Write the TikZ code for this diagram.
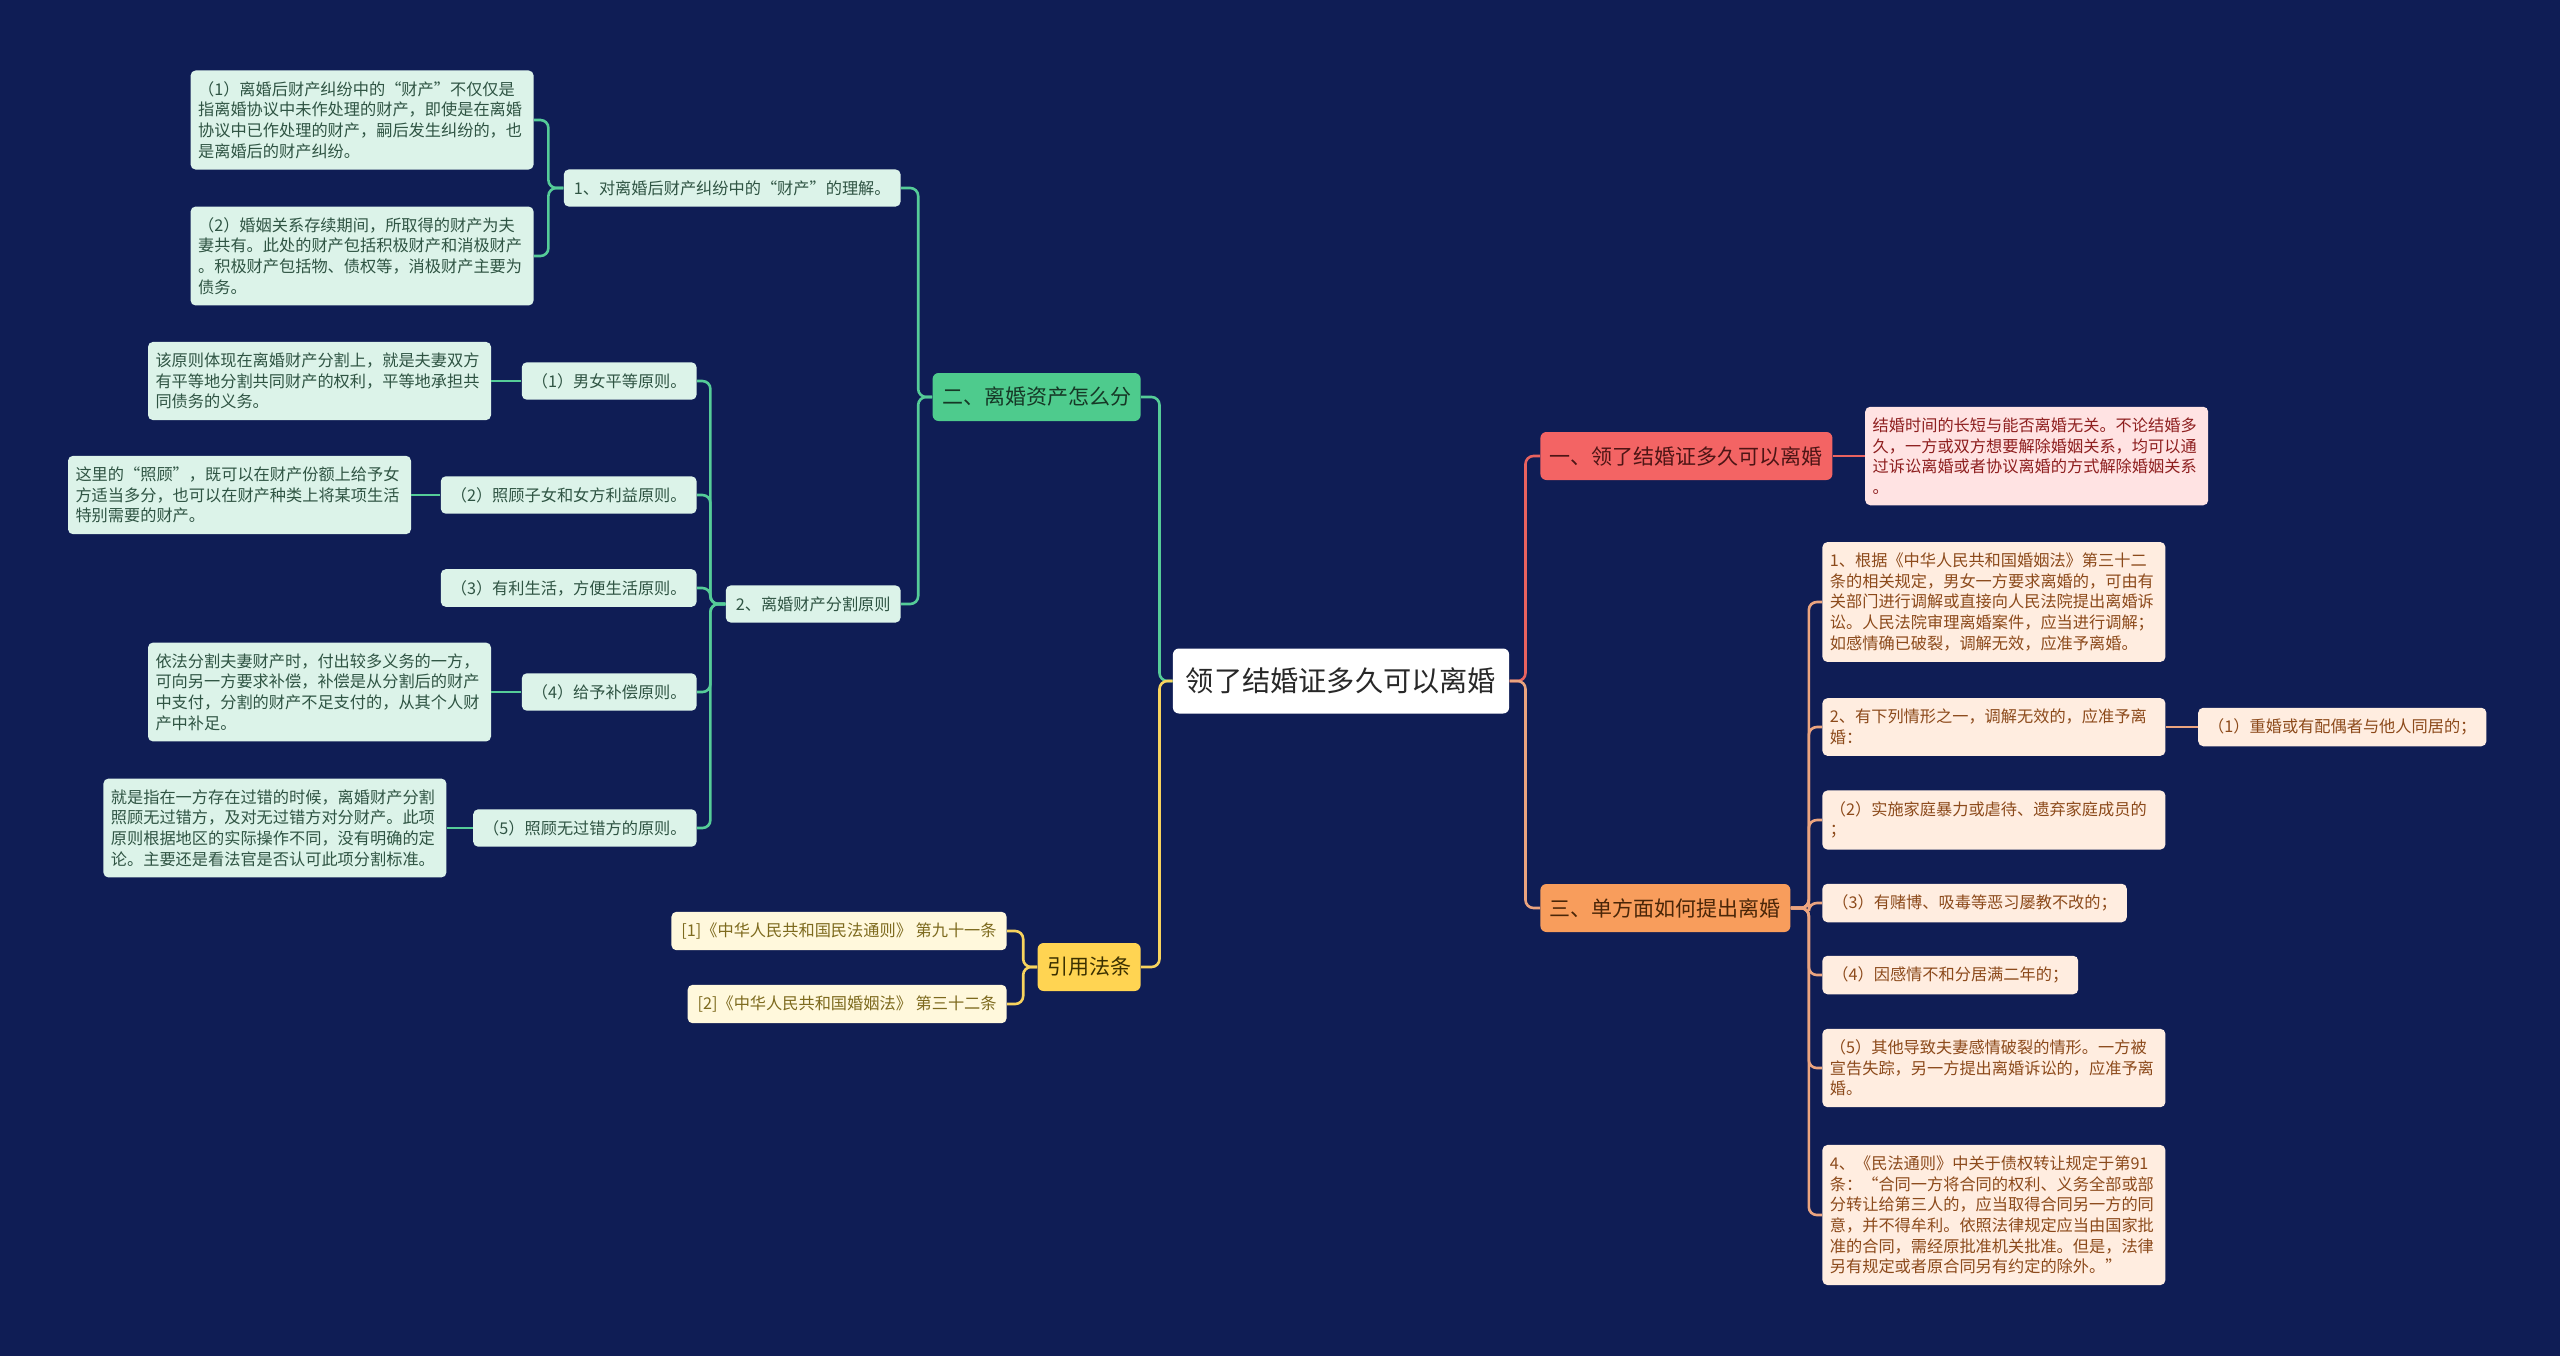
\documentclass[tikz,border=0pt]{standalone}
\usepackage{fontspec}
\setmainfont{Noto Sans CJK SC}
\usetikzlibrary{positioning}
\definecolor{bgcol}{RGB}{15,29,85}
\definecolor{rootcol}{RGB}{40,40,40}
\definecolor{gmain}{RGB}{78,203,141}
\definecolor{gdark}{RGB}{22,56,38}
\definecolor{glight}{RGB}{220,243,233}
\definecolor{gtext}{RGB}{47,84,67}
\definecolor{gline}{RGB}{85,204,152}
\definecolor{rmain}{RGB}{243,100,100}
\definecolor{rdark}{RGB}{77,21,21}
\definecolor{rlight}{RGB}{255,227,227}
\definecolor{rtext}{RGB}{142,31,31}
\definecolor{rline}{RGB}{233,98,95}
\definecolor{omain}{RGB}{248,157,92}
\definecolor{odark}{RGB}{74,38,8}
\definecolor{olight}{RGB}{255,237,224}
\definecolor{otext}{RGB}{140,74,27}
\definecolor{oline}{RGB}{235,164,127}
\definecolor{ymain}{RGB}{255,212,82}
\definecolor{ydark}{RGB}{59,48,0}
\definecolor{ylight}{RGB}{255,248,220}
\definecolor{ytext}{RGB}{125,106,30}
\definecolor{yline}{RGB}{247,211,94}
\tikzset{
  root/.style   = {rectangle, rounded corners=3pt, fill=white, text=rootcol,
                   font=\fontsize{14.1}{17}\selectfont, minimum height=32.5pt,
                   inner xsep=6.5pt},
  branch/.style = {rectangle, rounded corners=3pt, fill=#1main, text=#1dark,
                   font=\fontsize{10.5}{12.6}\selectfont, minimum height=24pt,
                   inner xsep=4.75pt},
  topic/.style  = {rectangle, rounded corners=2.5pt, fill=#1light, text=#1text,
                   font=\fontsize{8.1}{10.3}\selectfont, inner xsep=5pt,
                   inner ysep=5.5pt},
  leaf/.style   = {topic=#1, text width=164pt, align=left, inner xsep=3.75pt},
  wire/.style   = {draw=#1line, line width=1.3pt, rounded corners=4pt},
}
\begin{document}
\begin{tikzpicture}[x=0.5pt, y=-0.5pt]
  \fill[bgcol] (0,0) rectangle (2560,1356);
  \useasboundingbox (0,0) rectangle (2560,1356);

  \node[root] (root) at (1341,681) {领了结婚证多久可以离婚};

  \node[branch=g, anchor=east] (b2) at (1141,397) {二、离婚资产怎么分};
  \node[branch=y, anchor=east] (b4) at (1141,967) {引用法条};
  \node[branch=r, anchor=west] (b1) at (1540,456) {一、领了结婚证多久可以离婚};
  \node[branch=o, anchor=west] (b3) at (1540,908) {三、单方面如何提出离婚};

  % left: green branch
  \node[topic=g, anchor=east] (g1) at (901,188) {1、对离婚后财产纠纷中的“财产”的理解。};
  \node[leaf=g, anchor=east] (g1a) at (534,120)
       {（1）离婚后财产纠纷中的“财产”不仅仅是\\指离婚协议中未作处理的财产，即使是在离婚\\协议中已作处理的财产，嗣后发生纠纷的，也\\是离婚后的财产纠纷。};
  \node[leaf=g, anchor=east] (g1b) at (534,256)
       {（2）婚姻关系存续期间，所取得的财产为夫\\妻共有。此处的财产包括积极财产和消极财产\\。积极财产包括物、债权等，消极财产主要为\\债务。};
  \node[topic=g, anchor=east] (g2) at (901,604) {2、离婚财产分割原则};

  \node[topic=g, anchor=east] (p1) at (697,381) {（1）男女平等原则。};
  \node[topic=g, anchor=east] (p2) at (697,495) {（2）照顾子女和女方利益原则。};
  \node[topic=g, anchor=east] (p3) at (697,588) {（3）有利生活，方便生活原则。};
  \node[topic=g, anchor=east] (p4) at (697,692) {（4）给予补偿原则。};
  \node[topic=g, anchor=east] (p5) at (697,828) {（5）照顾无过错方的原则。};
  \node[leaf=g, left=15pt of p1] (p1l)
       {该原则体现在离婚财产分割上，就是夫妻双方\\有平等地分割共同财产的权利，平等地承担共\\同债务的义务。};
  \node[leaf=g, left=14.5pt of p2] (p2l)
       {这里的“照顾”，既可以在财产份额上给予女\\方适当多分，也可以在财产种类上将某项生活\\特别需要的财产。};
  \node[leaf=g, left=15pt of p4] (p4l)
       {依法分割夫妻财产时，付出较多义务的一方，\\可向另一方要求补偿，补偿是从分割后的财产\\中支付，分割的财产不足支付的，从其个人财\\产中补足。};
  \node[leaf=g, left=13pt of p5] (p5l)
       {就是指在一方存在过错的时候，离婚财产分割\\照顾无过错方，及对无过错方对分财产。此项\\原则根据地区的实际操作不同，没有明确的定\\论。主要还是看法官是否认可此项分割标准。};

  % left: yellow branch
  \node[topic=y, anchor=east] (y1) at (1007,931) {[1]《中华人民共和国民法通则》 第九十一条};
  \node[topic=y, anchor=east] (y2) at (1007,1004) {[2]《中华人民共和国婚姻法》 第三十二条};

  % right: red branch
  \node[leaf=r, right=16pt of b1] (r1)
       {结婚时间的长短与能否离婚无关。不论结婚多\\久，一方或双方想要解除婚姻关系，均可以通\\过诉讼离婚或者协议离婚的方式解除婚姻关系\\。};

  % right: orange branch
  \node[leaf=o, anchor=west] (o1) at (1822,602)
       {1、根据《中华人民共和国婚姻法》第三十二\\条的相关规定，男女一方要求离婚的，可由有\\关部门进行调解或直接向人民法院提出离婚诉\\讼。人民法院审理离婚案件，应当进行调解；\\如感情确已破裂，调解无效，应准予离婚。};
  \node[leaf=o, anchor=west] (o2) at (1822,727)
       {2、有下列情形之一，调解无效的，应准予离\\婚：};
  \node[topic=o, right=16pt of o2] (o2a) {（1）重婚或有配偶者与他人同居的；};
  \node[leaf=o, anchor=west] (o3) at (1822,820)
       {（2）实施家庭暴力或虐待、遗弃家庭成员的\\；};
  \node[topic=o, anchor=west] (o4) at (1822,903) {（3）有赌博、吸毒等恶习屡教不改的；};
  \node[topic=o, anchor=west] (o5) at (1822,975) {（4）因感情不和分居满二年的；};
  \node[leaf=o, anchor=west] (o6) at (1822,1068)
       {（5）其他导致夫妻感情破裂的情形。一方被\\宣告失踪，另一方提出离婚诉讼的，应准予离\\婚。};
  \node[leaf=o, anchor=west] (o7) at (1822,1215)
       {4、《民法通则》中关于债权转让规定于第91\\条：“合同一方将合同的权利、义务全部或部\\分转让给第三人的，应当取得合同另一方的同\\意，并不得牟利。依照法律规定应当由国家批\\准的合同，需经原批准机关批准。但是，法律\\另有规定或者原合同另有约定的除外。”};

  \draw[wire=g] (root.west) -- ++(-13,0) |- (b2.east);
  \draw[wire=y] (root.west) -- ++(-13,0) |- (b4.east);
  \draw[wire=r] (root.east) -- ++(16,0) |- (b1.west);
  \draw[wire=o] (root.east) -- ++(16,0) |- (b3.west);

  \foreach \c in {g1,g2} \draw[wire=g] (b2.west) -- ++(-14,0) |- (\c.east);
  \foreach \c in {g1a,g1b} \draw[wire=g] (g1.west) -- ++(-15,0) |- (\c.east);
  \foreach \c in {p1,p2,p3,p4,p5} \draw[wire=g] (g2.west) -- ++(-15,0) |- (\c.east);
  \foreach \a/\b in {p1/p1l, p2/p2l, p4/p4l, p5/p5l} \draw[wire=g] (\a.west) -- (\b.east);
  \foreach \c in {y1,y2} \draw[wire=y] (b4.west) -- ++(-14,0) |- (\c.east);
  \draw[wire=r] (b1.east) -- (r1.west);
  \foreach \c in {o1,o2,o3,o4,o5,o6,o7} \draw[wire=o] (b3.east) -- ++(18,0) |- (\c.west);
  \draw[wire=o] (o2.east) -- (o2a.west);
\end{tikzpicture}
\end{document}
